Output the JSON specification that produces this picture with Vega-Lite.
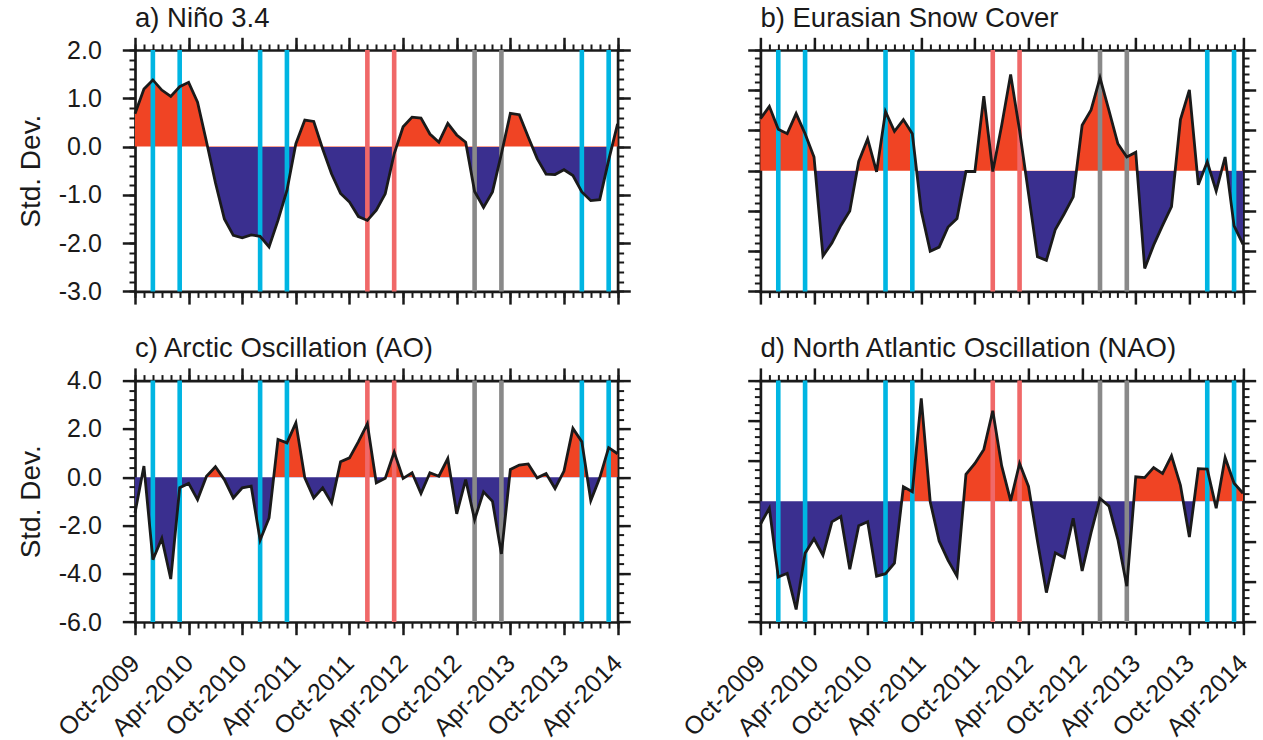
{
  "$schema": "https://vega.github.io/schema/vega-lite/v6.json",
  "padding": {"left": 17, "top": 4, "right": 0, "bottom": 0},
  "background": "white",
  "config": {
    "font": "Liberation Sans",
    "view": {"stroke": null},
    "axis": {
      "domainColor": "#1a1a1a", "domainWidth": 2.7, "tickColor": "#1a1a1a", "tickWidth": 2.5,
      "grid": false, "labelFont": "Liberation Sans", "labelFontSize": 25, "labelColor": "#1a1a1a",
      "titleFont": "Liberation Sans", "titleFontSize": 28, "titleFontWeight": "normal", "titleColor": "#1a1a1a",
      "zindex": 1, "labelFlush": false, "labelOverlap": false, "domainCap": "square"
    },
    "title": {"font": "Liberation Sans", "fontSize": 27.5, "fontWeight": "normal", "anchor": "start", "frame": "group", "offset": 0, "color": "#1a1a1a"}
  },
  "datasets": {
    "events": [
      {"m": 2, "kind": "type1"}, {"m": 5, "kind": "type1"},
      {"m": 14, "kind": "type1"}, {"m": 17, "kind": "type1"},
      {"m": 26, "kind": "type2"}, {"m": 29, "kind": "type2"},
      {"m": 38, "kind": "type3"}, {"m": 41, "kind": "type3"},
      {"m": 50, "kind": "type1"}, {"m": 53, "kind": "type1"}
    ],
    "nino": [
      {"m":0,"v":0.68},{"m":1,"v":1.19},{"m":2,"v":1.38},{"m":3,"v":1.17},{"m":4,"v":1.04},{"m":5,"v":1.24},{"m":6,"v":1.33},{"m":7,"v":0.92},{"m":8,"v":0.1},{"m":9,"v":-0.75},
      {"m":10,"v":-1.5},{"m":11,"v":-1.84},{"m":12,"v":-1.89},{"m":13,"v":-1.83},{"m":14,"v":-1.86},{"m":15,"v":-2.08},{"m":16,"v":-1.53},{"m":17,"v":-0.91},{"m":18,"v":0.06},{"m":19,"v":0.55},
      {"m":20,"v":0.52},{"m":21,"v":-0.05},{"m":22,"v":-0.57},{"m":23,"v":-0.97},{"m":24,"v":-1.15},{"m":25,"v":-1.45},{"m":26,"v":-1.53},{"m":27,"v":-1.32},{"m":28,"v":-0.98},{"m":29,"v":-0.15},
      {"m":30,"v":0.41},{"m":31,"v":0.61},{"m":32,"v":0.59},{"m":33,"v":0.26},{"m":34,"v":0.09},{"m":35,"v":0.48},{"m":36,"v":0.24},{"m":37,"v":0.09},{"m":38,"v":-0.93},{"m":39,"v":-1.26},
      {"m":40,"v":-0.94},{"m":41,"v":-0.15},{"m":42,"v":0.69},{"m":43,"v":0.66},{"m":44,"v":0.2},{"m":45,"v":-0.25},{"m":46,"v":-0.57},{"m":47,"v":-0.58},{"m":48,"v":-0.48},{"m":49,"v":-0.6},
      {"m":50,"v":-0.94},{"m":51,"v":-1.12},{"m":52,"v":-1.1},{"m":53,"v":-0.28},{"m":54,"v":0.47}
    ],
    "snow": [
      {"m":0,"v":1.29},{"m":1,"v":1.6},{"m":2,"v":1.03},{"m":3,"v":0.92},{"m":4,"v":1.42},{"m":5,"v":0.92},{"m":6,"v":0.34},{"m":7,"v":-2.12},{"m":8,"v":-1.8},{"m":9,"v":-1.36},
      {"m":10,"v":-1.0},{"m":11,"v":0.23},{"m":12,"v":0.79},{"m":13,"v":-0.03},{"m":14,"v":1.47},{"m":15,"v":0.98},{"m":16,"v":1.27},{"m":17,"v":0.92},{"m":18,"v":-1.0},{"m":19,"v":-2.0},
      {"m":20,"v":-1.9},{"m":21,"v":-1.4},{"m":22,"v":-1.19},{"m":23,"v":-0.02},{"m":24,"v":-0.02},{"m":25,"v":1.85},{"m":26,"v":-0.02},{"m":27,"v":1.13},{"m":28,"v":2.39},{"m":29,"v":1.0},
      {"m":30,"v":-0.57},{"m":31,"v":-2.14},{"m":32,"v":-2.23},{"m":33,"v":-1.46},{"m":34,"v":-1.07},{"m":35,"v":-0.65},{"m":36,"v":1.13},{"m":37,"v":1.51},{"m":38,"v":2.31},{"m":39,"v":1.5},
      {"m":40,"v":0.67},{"m":41,"v":0.34},{"m":42,"v":0.46},{"m":43,"v":-2.43},{"m":44,"v":-1.85},{"m":45,"v":-1.36},{"m":46,"v":-0.89},{"m":47,"v":1.27},{"m":48,"v":2.01},{"m":49,"v":-0.35},
      {"m":50,"v":0.22},{"m":51,"v":-0.51},{"m":52,"v":0.34},{"m":53,"v":-1.37},{"m":54,"v":-1.83}
    ],
    "ao": [
      {"m":0,"v":-1.48},{"m":1,"v":0.46},{"m":2,"v":-3.42},{"m":3,"v":-2.54},{"m":4,"v":-4.22},{"m":5,"v":-0.44},{"m":6,"v":-0.26},{"m":7,"v":-0.93},{"m":8,"v":0.04},{"m":9,"v":0.43},
      {"m":10,"v":-0.1},{"m":11,"v":-0.86},{"m":12,"v":-0.44},{"m":13,"v":-0.37},{"m":14,"v":-2.61},{"m":15,"v":-1.69},{"m":16,"v":1.56},{"m":17,"v":1.42},{"m":18,"v":2.25},{"m":19,"v":-0.03},
      {"m":20,"v":-0.86},{"m":21,"v":-0.44},{"m":22,"v":-1.07},{"m":23,"v":0.64},{"m":24,"v":0.8},{"m":25,"v":1.47},{"m":26,"v":2.21},{"m":27,"v":-0.24},{"m":28,"v":-0.05},{"m":29,"v":1.04},
      {"m":30,"v":-0.05},{"m":31,"v":0.18},{"m":32,"v":-0.68},{"m":33,"v":0.18},{"m":34,"v":0.04},{"m":35,"v":0.77},{"m":36,"v":-1.52},{"m":37,"v":-0.1},{"m":38,"v":-1.76},{"m":39,"v":-0.61},
      {"m":40,"v":-1.0},{"m":41,"v":-3.18},{"m":42,"v":0.32},{"m":43,"v":0.5},{"m":44,"v":0.55},{"m":45,"v":-0.03},{"m":46,"v":0.15},{"m":47,"v":-0.47},{"m":48,"v":0.25},{"m":49,"v":2.02},
      {"m":50,"v":1.47},{"m":51,"v":-0.97},{"m":52,"v":-0.03},{"m":53,"v":1.22},{"m":54,"v":0.97}
    ],
    "nao": [
      {"m":0,"v":-0.57},{"m":1,"v":-0.17},{"m":2,"v":-1.88},{"m":3,"v":-1.79},{"m":4,"v":-2.69},{"m":5,"v":-1.29},{"m":6,"v":-0.93},{"m":7,"v":-1.34},{"m":8,"v":-0.51},{"m":9,"v":-0.38},
      {"m":10,"v":-1.69},{"m":11,"v":-0.61},{"m":12,"v":-0.51},{"m":13,"v":-1.86},{"m":14,"v":-1.8},{"m":15,"v":-1.54},{"m":16,"v":0.36},{"m":17,"v":0.24},{"m":18,"v":2.56},{"m":19,"v":-0.01},
      {"m":20,"v":-0.99},{"m":21,"v":-1.47},{"m":22,"v":-1.86},{"m":23,"v":0.67},{"m":24,"v":0.94},{"m":25,"v":1.29},{"m":26,"v":2.25},{"m":27,"v":0.88},{"m":28,"v":0.01},{"m":29,"v":0.94},
      {"m":30,"v":0.37},{"m":31,"v":-0.99},{"m":32,"v":-2.27},{"m":33,"v":-1.28},{"m":34,"v":-1.4},{"m":35,"v":-0.42},{"m":36,"v":-1.73},{"m":37,"v":-0.78},{"m":38,"v":0.07},{"m":39,"v":-0.12},
      {"m":40,"v":-0.95},{"m":41,"v":-2.11},{"m":42,"v":0.61},{"m":43,"v":0.59},{"m":44,"v":0.84},{"m":45,"v":0.69},{"m":46,"v":1.13},{"m":47,"v":0.4},{"m":48,"v":-0.89},{"m":49,"v":0.81},
      {"m":50,"v":0.8},{"m":51,"v":-0.17},{"m":52,"v":1.09},{"m":53,"v":0.45},{"m":54,"v":0.2}
    ]
  },
  "columns": 2,
  "bounds": "flush",
  "spacing": {"row": 88.6, "column": 142.4},
  "concat": [
    {
      "width": 482.6, "height": 241.4,
      "title": "a) Niño 3.4",
      "resolve": {"axis": {"x": "independent", "y": "independent"}},
      "layer": [
        {"data": {"name": "nino"},
         "mark": {"type": "area", "fill": {"gradient": "linear", "x1": 0, "y1": 0, "x2": 0, "y2": 1, "stops": [{"offset": 0, "color": "#F04424"}, {"offset": 0.39884, "color": "#F04424"}, {"offset": 0.39884, "color": "#3A2F8F"}, {"offset": 1, "color": "#3A2F8F"}]}, "fillOpacity": 1},
         "encoding": {
           "x": {"field": "m", "type": "quantitative", "scale": {"domain": [0, 54], "nice": false, "zero": false},
                 "axis": {"orient": "bottom", "values": [0,6,12,18,24,30,36,42,48,54], "tickSize": 12.7, "labels": false, "title": null}},
           "y": {"field": "v", "type": "quantitative", "scale": {"domain": [-3, 2], "nice": false, "zero": false},
                 "axis": {"orient": "left", "values": [-3,-2,-1,0,1,2], "tickSize": 12.7, "labelPadding": 21, "labelExpr": "replace(format(datum.value, '.1f'), '−', '-')", "title": "Std. Dev.", "titlePadding": 13}},
           "y2": {"datum": 0}
         }},
        {"data": {"name": "events"},
         "mark": {"type": "rule", "strokeWidth": 4.6},
         "encoding": {
           "x": {"field": "m", "type": "quantitative", "axis": {"orient": "bottom", "values": [0,1,2,3,4,5,6,7,8,9,10,11,12,13,14,15,16,17,18,19,20,21,22,23,24,25,26,27,28,29,30,31,32,33,34,35,36,37,38,39,40,41,42,43,44,45,46,47,48,49,50,51,52,53,54], "tickSize": 6, "tickWidth": 2, "labels": false, "domain": false, "title": null}},
           "color": {"field": "kind", "type": "nominal", "scale": {"domain": ["type1", "type2", "type3"], "range": ["#00B5E2", "#F06868", "#898989"]}, "legend": null}
         }},
        {"data": {"name": "nino"},
         "mark": {"type": "line", "color": "#1a1a1a", "strokeWidth": 2.8},
         "encoding": {
           "x": {"field": "m", "type": "quantitative", "axis": {"orient": "top", "values": [0,6,12,18,24,30,36,42,48,54], "tickSize": 12.7, "labels": false, "title": null}},
           "y": {"field": "v", "type": "quantitative", "axis": {"orient": "right", "values": [-3,-2,-1,0,1,2], "tickSize": 12.7, "labels": false, "title": null}}
         }},
        {"data": {"name": "nino"},
         "mark": {"type": "point", "opacity": 0},
         "encoding": {
           "x": {"field": "m", "type": "quantitative", "axis": {"orient": "top", "values": [0,1,2,3,4,5,6,7,8,9,10,11,12,13,14,15,16,17,18,19,20,21,22,23,24,25,26,27,28,29,30,31,32,33,34,35,36,37,38,39,40,41,42,43,44,45,46,47,48,49,50,51,52,53,54], "tickSize": 6, "tickWidth": 2, "labels": false, "domain": false, "title": null}},
           "y": {"field": "v", "type": "quantitative", "axis": {"orient": "left", "values": [-3,-2.8,-2.6,-2.4,-2.2,-2,-1.8,-1.6,-1.4,-1.2,-1,-0.8,-0.6,-0.4,-0.2,0,0.2,0.4,0.6,0.8,1,1.2,1.4,1.6,1.8,2], "tickSize": 6, "tickWidth": 2, "labels": false, "domain": false, "title": null}}
         }},
        {"data": {"name": "nino"},
         "mark": {"type": "point", "opacity": 0},
         "encoding": {
           "x": {"field": "m", "type": "quantitative", "axis": null},
           "y": {"field": "v", "type": "quantitative", "axis": {"orient": "right", "values": [-3,-2.8,-2.6,-2.4,-2.2,-2,-1.8,-1.6,-1.4,-1.2,-1,-0.8,-0.6,-0.4,-0.2,0,0.2,0.4,0.6,0.8,1,1.2,1.4,1.6,1.8,2], "tickSize": 6, "tickWidth": 2, "labels": false, "domain": false, "title": null}}
         }}
      ]
    },
    {
      "width": 482.6, "height": 241.4,
      "title": "b) Eurasian Snow Cover",
      "resolve": {"axis": {"x": "independent", "y": "independent"}},
      "layer": [
        {"data": {"name": "snow"},
         "mark": {"type": "area", "fill": {"gradient": "linear", "x1": 0, "y1": 0, "x2": 0, "y2": 1, "stops": [{"offset": 0, "color": "#F04424"}, {"offset": 0.49585, "color": "#F04424"}, {"offset": 0.49585, "color": "#3A2F8F"}, {"offset": 1, "color": "#3A2F8F"}]}, "fillOpacity": 1},
         "encoding": {
           "x": {"field": "m", "type": "quantitative", "scale": {"domain": [0, 54], "nice": false, "zero": false},
                 "axis": {"orient": "bottom", "values": [0,6,12,18,24,30,36,42,48,54], "tickSize": 12.7, "labels": false, "title": null}},
           "y": {"field": "v", "type": "quantitative", "scale": {"domain": [-3, 3], "nice": false, "zero": false},
                 "axis": {"orient": "left", "values": [-3,-2,-1,0,1,2,3], "tickSize": 12.7, "labels": false, "title": null}},
           "y2": {"datum": 0}
         }},
        {"data": {"name": "events"},
         "mark": {"type": "rule", "strokeWidth": 4.6},
         "encoding": {
           "x": {"field": "m", "type": "quantitative", "axis": {"orient": "bottom", "values": [0,1,2,3,4,5,6,7,8,9,10,11,12,13,14,15,16,17,18,19,20,21,22,23,24,25,26,27,28,29,30,31,32,33,34,35,36,37,38,39,40,41,42,43,44,45,46,47,48,49,50,51,52,53,54], "tickSize": 6, "tickWidth": 2, "labels": false, "domain": false, "title": null}},
           "color": {"field": "kind", "type": "nominal", "scale": {"domain": ["type1", "type2", "type3"], "range": ["#00B5E2", "#F06868", "#898989"]}, "legend": null}
         }},
        {"data": {"name": "snow"},
         "mark": {"type": "line", "color": "#1a1a1a", "strokeWidth": 2.8},
         "encoding": {
           "x": {"field": "m", "type": "quantitative", "axis": {"orient": "top", "values": [0,6,12,18,24,30,36,42,48,54], "tickSize": 12.7, "labels": false, "title": null}},
           "y": {"field": "v", "type": "quantitative", "axis": {"orient": "right", "values": [-3,-2,-1,0,1,2,3], "tickSize": 12.7, "labels": false, "title": null}}
         }},
        {"data": {"name": "snow"},
         "mark": {"type": "point", "opacity": 0},
         "encoding": {
           "x": {"field": "m", "type": "quantitative", "axis": {"orient": "top", "values": [0,1,2,3,4,5,6,7,8,9,10,11,12,13,14,15,16,17,18,19,20,21,22,23,24,25,26,27,28,29,30,31,32,33,34,35,36,37,38,39,40,41,42,43,44,45,46,47,48,49,50,51,52,53,54], "tickSize": 6, "tickWidth": 2, "labels": false, "domain": false, "title": null}},
           "y": {"field": "v", "type": "quantitative", "axis": {"orient": "left", "values": [-3,-2.8,-2.6,-2.4,-2.2,-2,-1.8,-1.6,-1.4,-1.2,-1,-0.8,-0.6,-0.4,-0.2,0,0.2,0.4,0.6,0.8,1,1.2,1.4,1.6,1.8,2,2.2,2.4,2.6,2.8,3], "tickSize": 6, "tickWidth": 2, "labels": false, "domain": false, "title": null}}
         }},
        {"data": {"name": "snow"},
         "mark": {"type": "point", "opacity": 0},
         "encoding": {
           "x": {"field": "m", "type": "quantitative", "axis": null},
           "y": {"field": "v", "type": "quantitative", "axis": {"orient": "right", "values": [-3,-2.8,-2.6,-2.4,-2.2,-2,-1.8,-1.6,-1.4,-1.2,-1,-0.8,-0.6,-0.4,-0.2,0,0.2,0.4,0.6,0.8,1,1.2,1.4,1.6,1.8,2,2.2,2.4,2.6,2.8,3], "tickSize": 6, "tickWidth": 2, "labels": false, "domain": false, "title": null}}
         }}
      ]
    },
    {
      "width": 482.6, "height": 241.4,
      "title": "c) Arctic Oscillation (AO)",
      "resolve": {"axis": {"x": "independent", "y": "independent"}},
      "layer": [
        {"data": {"name": "ao"},
         "mark": {"type": "area", "fill": {"gradient": "linear", "x1": 0, "y1": 0, "x2": 0, "y2": 1, "stops": [{"offset": 0, "color": "#F04424"}, {"offset": 0.34776, "color": "#F04424"}, {"offset": 0.34776, "color": "#3A2F8F"}, {"offset": 1, "color": "#3A2F8F"}]}, "fillOpacity": 1},
         "encoding": {
           "x": {"field": "m", "type": "quantitative", "scale": {"domain": [0, 54], "nice": false, "zero": false},
                 "axis": {"orient": "bottom", "values": [0,6,12,18,24,30,36,42,48,54], "tickSize": 12.7, "labels": true, "labelAngle": -45, "labelAlign": "right", "labelBaseline": "middle", "labelPadding": 24, "labelExpr": "['Oct','Apr'][(datum.value/6)%2] + '-' + (2009 + floor((datum.value+9)/12))", "title": null}},
           "y": {"field": "v", "type": "quantitative", "scale": {"domain": [-6, 4], "nice": false, "zero": false},
                 "axis": {"orient": "left", "values": [-6,-4,-2,0,2,4], "tickSize": 12.7, "labelPadding": 21, "labelExpr": "replace(format(datum.value, '.1f'), '−', '-')", "title": "Std. Dev.", "titlePadding": 13}},
           "y2": {"datum": 0}
         }},
        {"data": {"name": "events"},
         "mark": {"type": "rule", "strokeWidth": 4.6},
         "encoding": {
           "x": {"field": "m", "type": "quantitative", "axis": {"orient": "bottom", "values": [0,1,2,3,4,5,6,7,8,9,10,11,12,13,14,15,16,17,18,19,20,21,22,23,24,25,26,27,28,29,30,31,32,33,34,35,36,37,38,39,40,41,42,43,44,45,46,47,48,49,50,51,52,53,54], "tickSize": 6, "tickWidth": 2, "labels": false, "domain": false, "title": null}},
           "color": {"field": "kind", "type": "nominal", "scale": {"domain": ["type1", "type2", "type3"], "range": ["#00B5E2", "#F06868", "#898989"]}, "legend": null}
         }},
        {"data": {"name": "ao"},
         "mark": {"type": "line", "color": "#1a1a1a", "strokeWidth": 2.8},
         "encoding": {
           "x": {"field": "m", "type": "quantitative", "axis": {"orient": "top", "values": [0,6,12,18,24,30,36,42,48,54], "tickSize": 12.7, "labels": false, "title": null}},
           "y": {"field": "v", "type": "quantitative", "axis": {"orient": "right", "values": [-6,-4,-2,0,2,4], "tickSize": 12.7, "labels": false, "title": null}}
         }},
        {"data": {"name": "ao"},
         "mark": {"type": "point", "opacity": 0},
         "encoding": {
           "x": {"field": "m", "type": "quantitative", "axis": {"orient": "top", "values": [0,1,2,3,4,5,6,7,8,9,10,11,12,13,14,15,16,17,18,19,20,21,22,23,24,25,26,27,28,29,30,31,32,33,34,35,36,37,38,39,40,41,42,43,44,45,46,47,48,49,50,51,52,53,54], "tickSize": 6, "tickWidth": 2, "labels": false, "domain": false, "title": null}},
           "y": {"field": "v", "type": "quantitative", "axis": {"orient": "left", "values": [-6,-5.6,-5.2,-4.8,-4.4,-4,-3.6,-3.2,-2.8,-2.4,-2,-1.6,-1.2,-0.8,-0.4,0,0.4,0.8,1.2,1.6,2,2.4,2.8,3.2,3.6,4], "tickSize": 6, "tickWidth": 2, "labels": false, "domain": false, "title": null}}
         }},
        {"data": {"name": "ao"},
         "mark": {"type": "point", "opacity": 0},
         "encoding": {
           "x": {"field": "m", "type": "quantitative", "axis": null},
           "y": {"field": "v", "type": "quantitative", "axis": {"orient": "right", "values": [-6,-5.6,-5.2,-4.8,-4.4,-4,-3.6,-3.2,-2.8,-2.4,-2,-1.6,-1.2,-0.8,-0.4,0,0.4,0.8,1.2,1.6,2,2.4,2.8,3.2,3.6,4], "tickSize": 6, "tickWidth": 2, "labels": false, "domain": false, "title": null}}
         }}
      ]
    },
    {
      "width": 482.6, "height": 241.4,
      "title": "d) North Atlantic Oscillation (NAO)",
      "resolve": {"axis": {"x": "independent", "y": "independent"}},
      "layer": [
        {"data": {"name": "nao"},
         "mark": {"type": "area", "fill": {"gradient": "linear", "x1": 0, "y1": 0, "x2": 0, "y2": 1, "stops": [{"offset": 0, "color": "#F04424"}, {"offset": 0.48762, "color": "#F04424"}, {"offset": 0.48762, "color": "#3A2F8F"}, {"offset": 1, "color": "#3A2F8F"}]}, "fillOpacity": 1},
         "encoding": {
           "x": {"field": "m", "type": "quantitative", "scale": {"domain": [0, 54], "nice": false, "zero": false},
                 "axis": {"orient": "bottom", "values": [0,6,12,18,24,30,36,42,48,54], "tickSize": 12.7, "labels": true, "labelAngle": -45, "labelAlign": "right", "labelBaseline": "middle", "labelPadding": 24, "labelExpr": "['Oct','Apr'][(datum.value/6)%2] + '-' + (2009 + floor((datum.value+9)/12))", "title": null}},
           "y": {"field": "v", "type": "quantitative", "scale": {"domain": [-3, 3], "nice": false, "zero": false},
                 "axis": {"orient": "left", "values": [-3,-2,-1,0,1,2,3], "tickSize": 12.7, "labels": false, "title": null}},
           "y2": {"datum": 0}
         }},
        {"data": {"name": "events"},
         "mark": {"type": "rule", "strokeWidth": 4.6},
         "encoding": {
           "x": {"field": "m", "type": "quantitative", "axis": {"orient": "bottom", "values": [0,1,2,3,4,5,6,7,8,9,10,11,12,13,14,15,16,17,18,19,20,21,22,23,24,25,26,27,28,29,30,31,32,33,34,35,36,37,38,39,40,41,42,43,44,45,46,47,48,49,50,51,52,53,54], "tickSize": 6, "tickWidth": 2, "labels": false, "domain": false, "title": null}},
           "color": {"field": "kind", "type": "nominal", "scale": {"domain": ["type1", "type2", "type3"], "range": ["#00B5E2", "#F06868", "#898989"]}, "legend": null}
         }},
        {"data": {"name": "nao"},
         "mark": {"type": "line", "color": "#1a1a1a", "strokeWidth": 2.8},
         "encoding": {
           "x": {"field": "m", "type": "quantitative", "axis": {"orient": "top", "values": [0,6,12,18,24,30,36,42,48,54], "tickSize": 12.7, "labels": false, "title": null}},
           "y": {"field": "v", "type": "quantitative", "axis": {"orient": "right", "values": [-3,-2,-1,0,1,2,3], "tickSize": 12.7, "labels": false, "title": null}}
         }},
        {"data": {"name": "nao"},
         "mark": {"type": "point", "opacity": 0},
         "encoding": {
           "x": {"field": "m", "type": "quantitative", "axis": {"orient": "top", "values": [0,1,2,3,4,5,6,7,8,9,10,11,12,13,14,15,16,17,18,19,20,21,22,23,24,25,26,27,28,29,30,31,32,33,34,35,36,37,38,39,40,41,42,43,44,45,46,47,48,49,50,51,52,53,54], "tickSize": 6, "tickWidth": 2, "labels": false, "domain": false, "title": null}},
           "y": {"field": "v", "type": "quantitative", "axis": {"orient": "left", "values": [-3,-2.8,-2.6,-2.4,-2.2,-2,-1.8,-1.6,-1.4,-1.2,-1,-0.8,-0.6,-0.4,-0.2,0,0.2,0.4,0.6,0.8,1,1.2,1.4,1.6,1.8,2,2.2,2.4,2.6,2.8,3], "tickSize": 6, "tickWidth": 2, "labels": false, "domain": false, "title": null}}
         }},
        {"data": {"name": "nao"},
         "mark": {"type": "point", "opacity": 0},
         "encoding": {
           "x": {"field": "m", "type": "quantitative", "axis": null},
           "y": {"field": "v", "type": "quantitative", "axis": {"orient": "right", "values": [-3,-2.8,-2.6,-2.4,-2.2,-2,-1.8,-1.6,-1.4,-1.2,-1,-0.8,-0.6,-0.4,-0.2,0,0.2,0.4,0.6,0.8,1,1.2,1.4,1.6,1.8,2,2.2,2.4,2.6,2.8,3], "tickSize": 6, "tickWidth": 2, "labels": false, "domain": false, "title": null}}
         }}
      ]
    }
  ]
}
